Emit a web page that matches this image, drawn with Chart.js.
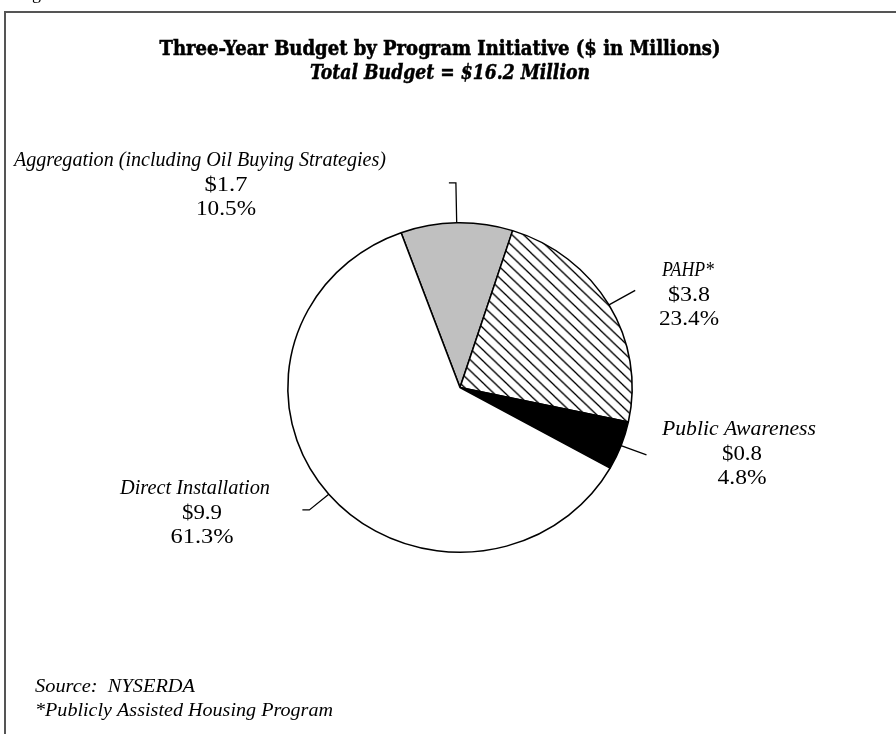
<!DOCTYPE html>
<html><head><meta charset="utf-8">
<script src="https://cdn.jsdelivr.net/npm/chart.js@4.4.1/dist/chart.umd.min.js"></script>
<style>html,body{margin:0;padding:0;background:#fff}canvas{display:block}</style>
</head><body>
<canvas id="c" width="896" height="734"></canvas>
<script>
// ---- data ----
const categories = ['Aggregation (including Oil Buying Strategies)', 'PAHP*', 'Public Awareness', 'Direct Installation'];
const budgetMillions = [1.7, 3.8, 0.8, 9.9];
const sharePercent = [10.5, 23.4, 4.8, 61.3];
const titleText = 'Three-Year Budget by Program Initiative ($ in Millions)';
const subtitleText = 'Total Budget = $16.2 Million';
const footnotes = ['Source:  NYSERDA', '*Publicly Assisted Housing Program'];

// ---- style / layout ----
const SX = 1.045; // reference pie is slightly wider than tall
const labelLayout = [
  {nameX: 200, nameW: 372, valX: 226, y: 166, valW: [43, 60]},
  {nameX: 688, nameW: 52,  valX: 689, y: 276, valW: [42, 60]},
  {nameX: 739, nameW: 154, valX: 742, y: 435, valW: [40, 49]},
  {nameX: 195, nameW: 150, valX: 202, y: 494, valW: [40, 63]}
];
const leaderLayout = [
  {len: 40, tick: -7},
  {len: 30, tick: 0},
  {len: 27, tick: 0},
  {len: 25, tick: -7}
];
const lineGap = 24.5;

function makeHatch() {
  const s = 11;
  const c = document.createElement('canvas');
  c.width = s; c.height = s;
  const g = c.getContext('2d');
  g.fillStyle = '#fff'; g.fillRect(0, 0, s, s);
  g.strokeStyle = '#000'; g.lineWidth = 1.3;
  g.beginPath();
  g.moveTo(-2, -2); g.lineTo(s + 2, s + 2);
  g.moveTo(-2, s - 2); g.lineTo(2, s + 2);
  g.moveTo(s - 2, -2); g.lineTo(s + 2, 2);
  g.stroke();
  return g.createPattern(c, 'repeat');
}

function fitText(ctx, text, x, y, width, align, stroke) {
  const w0 = ctx.measureText(text).width;
  const sx = width / w0;
  const left = align === 'left' ? x : x - width / 2;
  ctx.save();
  ctx.translate(left, y);
  ctx.scale(sx, 1);
  ctx.textAlign = 'left';
  ctx.fillText(text, 0, 0);
  if (stroke) {
    ctx.lineWidth = stroke;
    ctx.strokeStyle = ctx.fillStyle;
    ctx.strokeText(text, 0, 0);
  }
  ctx.restore();
}

const ellipsePlugin = {
  id: 'ellipse',
  beforeDatasetsDraw(chart) {
    const a = chart.getDatasetMeta(0).data[0];
    const ctx = chart.ctx;
    ctx.save();
    ctx.translate(a.x, a.y);
    ctx.scale(SX, 1);
    ctx.translate(-a.x, -a.y);
  },
  afterDatasetsDraw(chart) { chart.ctx.restore(); }
};

const decorPlugin = {
  id: 'decor',
  beforeDraw(chart) {
    const ctx = chart.ctx;
    ctx.save();
    ctx.fillStyle = '#fff';
    ctx.fillRect(0, 0, chart.width, chart.height);
    // frame
    ctx.strokeStyle = '#555';
    ctx.lineWidth = 2;
    ctx.beginPath();
    ctx.moveTo(5, 740); ctx.lineTo(5, 12); ctx.lineTo(900, 12);
    ctx.stroke();
    ctx.restore();
  },
  afterDraw(chart) {
    const ctx = chart.ctx;
    ctx.save();
    ctx.fillStyle = '#000';
    ctx.textBaseline = 'alphabetic';
    // cut-off caption above frame
    ctx.font = '18px "Liberation Serif"';
    ctx.fillText('Figure', 17, -1);
    // titles
    ctx.font = 'bold 21px "DejaVu Serif"';
    fitText(ctx, titleText, 440, 55, 561, 'center', 0.6);
    ctx.font = 'italic bold 20px "DejaVu Serif"';
    fitText(ctx, subtitleText, 450, 79, 280, 'center', 0.5);

    // leader lines
    const meta = chart.getDatasetMeta(0);
    ctx.strokeStyle = '#000';
    ctx.lineWidth = 1.3;
    meta.data.forEach((arc, i) => {
      const p = arc.getProps(['x', 'y', 'outerRadius', 'startAngle', 'endAngle'], true);
      const m = (p.startAngle + p.endAngle) / 2;
      const px = p.x + SX * p.outerRadius * Math.cos(m);
      const py = p.y + p.outerRadius * Math.sin(m);
      let dx = SX * Math.cos(m), dy = Math.sin(m);
      const n = Math.hypot(dx, dy); dx /= n; dy /= n;
      const L = leaderLayout[i].len;
      const ex = px + dx * L, ey = py + dy * L;
      ctx.beginPath();
      ctx.moveTo(px, py);
      ctx.lineTo(ex, ey);
      if (leaderLayout[i].tick) ctx.lineTo(ex + leaderLayout[i].tick, ey);
      ctx.stroke();
    });

    // data labels
    categories.forEach((name, i) => {
      const L = labelLayout[i];
      ctx.font = 'italic 20px "Liberation Serif"';
      fitText(ctx, name, L.nameX, L.y, L.nameW, 'center');
      ctx.font = '20px "Liberation Serif"';
      fitText(ctx, '$' + budgetMillions[i].toFixed(1), L.valX, L.y + lineGap, L.valW[0], 'center');
      fitText(ctx, sharePercent[i].toFixed(1) + '%', L.valX, L.y + 2 * lineGap, L.valW[1], 'center');
    });

    // footnotes
    ctx.font = 'italic 19px "Liberation Serif"';
    fitText(ctx, footnotes[0], 35, 692, 160, 'left');
    fitText(ctx, footnotes[1], 35, 716, 298, 'left');
    ctx.restore();
  }
};

new Chart(document.getElementById('c'), {
  type: 'pie',
  data: {
    labels: categories,
    datasets: [{
      data: sharePercent,
      backgroundColor: ['#c0c0c0', makeHatch(), '#000000', '#ffffff'],
      borderColor: '#000',
      borderWidth: 1.5,
      clip: false
    }]
  },
  options: {
    responsive: false,
    animation: false,
    devicePixelRatio: 1,
    rotation: -20,
    layout: {padding: {top: 222, bottom: 181, left: 280, right: 256}},
    plugins: {legend: {display: false}, tooltip: {enabled: false}, title: {display: false}},
    events: []
  },
  plugins: [decorPlugin, ellipsePlugin]
});
</script>
</body></html>
